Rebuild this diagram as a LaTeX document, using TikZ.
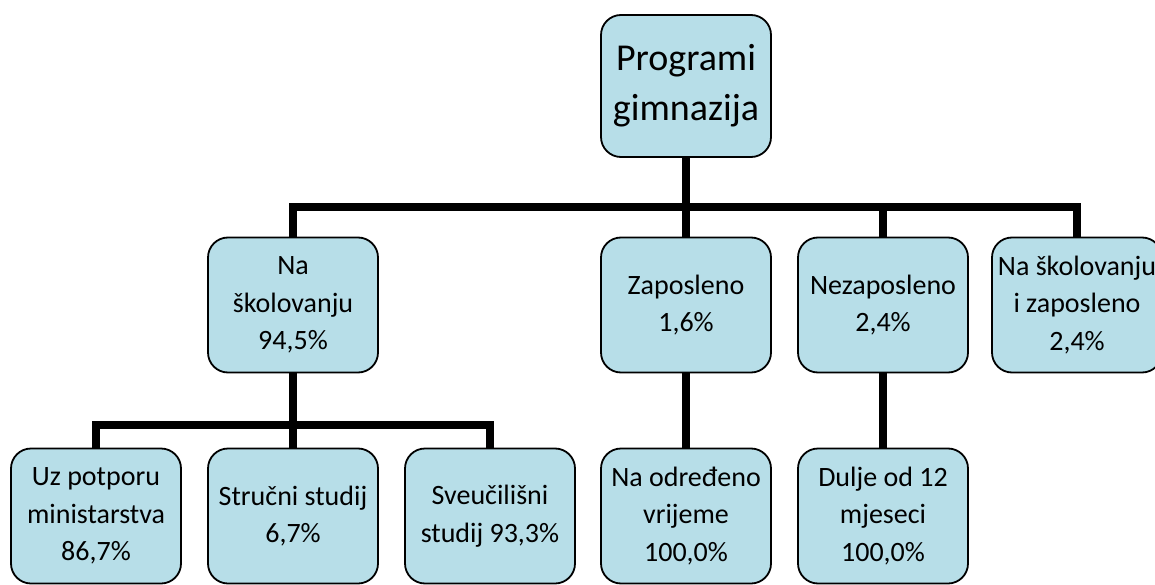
\documentclass[tikz,border=0pt]{standalone}
\usepackage{fontspec}
\setmainfont{Carlito}
\definecolor{boxfill}{RGB}{183,222,232}

\begin{document}
\begin{tikzpicture}[x=1pt,y=-1pt,
		every node/.style={draw,rectangle,rounded corners=20pt,fill=boxfill,line width=1.8pt,
			minimum width=170pt,minimum height=135pt,align=center,inner sep=2pt,
			font=\fontsize{28}{37.5}\selectfont},
		rootbox/.style={minimum height=142pt,font=\fontsize{38}{50}\selectfont},
		conn/.style={line width=7.5pt}]
		\useasboundingbox (0,0) rectangle (1155,585);
		\node[rootbox] (root) at (686,86) {Programi\\gimnazija};
		\node (skol) at (293,305) {Na\\školovanju\\94,5\%};
		\node (zap) at (686,305) {Zaposleno\\1,6\%};
		\node (nez) at (883,305) {Nezaposleno\\2,4\%};
		\node (kombi) at (1077,305) {Na školovanju\\i zaposleno\\2,4\%};
		\node (potp) at (96,516) {Uz potporu\\ministarstva\\86,7\%};
		\node (strucni) at (293,516) {Stručni studij\\6,7\%};
		\node (sveuc) at (490,516) {Sveučilišni\\studij 93,3\%};
		\node (odr) at (686,516) {Na određeno\\vrijeme\\100,0\%};
		\node (dulje) at (883,516) {Dulje od 12\\mjeseci\\100,0\%};
		\coordinate (j1) at (686,207);
		\coordinate (j2) at (293,425);
		\draw[conn] (root.south) -- (j1);
		\draw[conn] (skol.north) |- (j1) -| (kombi.north);
		\draw[conn] (zap.north) -- (zap.north |- j1);
		\draw[conn] (nez.north) -- (nez.north |- j1);
		\draw[conn] (skol.south) -- (j2);
		\draw[conn] (potp.north) |- (j2) -| (sveuc.north);
		\draw[conn] (strucni.north) -- (strucni.north |- j2);
		\draw[conn] (zap.south) -- (odr.north);
		\draw[conn] (nez.south) -- (dulje.north);
\end{tikzpicture}
\end{document}
